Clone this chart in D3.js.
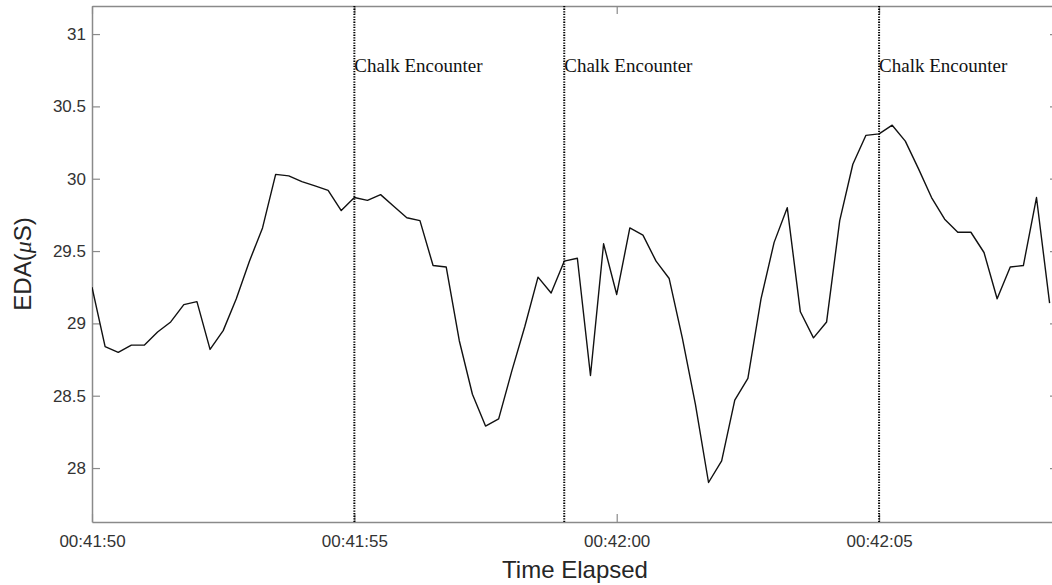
<!DOCTYPE html>
<html>
<head>
<meta charset="utf-8">
<script src="https://cdn.jsdelivr.net/npm/d3@7"></script>
<style>
  html, body { margin: 0; padding: 0; background: #fff; }
  svg { display: block; }
</style>
</head>
<body>
<svg id="chart" width="1052" height="585"></svg>
<script>
// EDA recording, sampled at 4 Hz starting at startTime
const startTime = "00:41:50";
const sampleInterval = 0.25; // seconds between samples
const edaValues = [
  29.25, 28.84, 28.80, 28.85, 28.85, 28.94, 29.01, 29.13, 29.15, 28.82,
  28.95, 29.17, 29.43, 29.66, 30.03, 30.02, 29.98, 29.95, 29.92, 29.78,
  29.87, 29.85, 29.89, 29.81, 29.73, 29.71, 29.40, 29.39, 28.88, 28.51,
  28.29, 28.34, 28.67, 28.98, 29.32, 29.21, 29.43, 29.45, 28.64, 29.55,
  29.20, 29.66, 29.61, 29.43, 29.31, 28.90, 28.44, 27.90, 28.05, 28.47,
  28.62, 29.17, 29.56, 29.80, 29.08, 28.90, 29.01, 29.71, 30.10, 30.30,
  30.31, 30.37, 30.26, 30.07, 29.87, 29.72, 29.63, 29.63, 29.49, 29.17,
  29.39, 29.40, 29.87, 29.14
];

// Axis ticks
const xTickLabels = ["00:41:50", "00:41:55", "00:42:00", "00:42:05"];
const yTickValues = [28, 28.5, 29, 29.5, 30, 30.5, 31];

// Marked events
const eventTimes = ["00:41:55", "00:41:59", "00:42:05"];
const eventLabels = ["Chalk Encounter", "Chalk Encounter", "Chalk Encounter"];

const parseTime = d3.timeParse("%H:%M:%S");
const fmtTime = d3.timeFormat("%H:%M:%S");
const t0 = parseTime(startTime);
const timeAt = s => new Date(t0.getTime() + s * 1000);

const series = edaValues.map((v, i) => ({ t: timeAt(i * sampleInterval), v }));

const svg = d3.select("#chart");
const plot = { left: 92, top: 6, right: 1058, bottom: 522 };

const x = d3.scaleTime()
  .domain([t0, timeAt(18.41)])
  .range([plot.left, plot.right]);
const y = d3.scaleLinear()
  .domain([27.627, 31.194])
  .range([plot.bottom, plot.top]);

const axisColor = "#8a8a8a";
const textColor = "#333";

svg.append("defs").append("clipPath").attr("id", "plotClip")
  .append("rect")
  .attr("x", plot.left).attr("y", plot.top)
  .attr("width", plot.right - plot.left).attr("height", plot.bottom - plot.top);

const xTicks = xTickLabels.map(parseTime);

// Bottom axis with labels
const gx = svg.append("g")
  .attr("transform", `translate(0,${plot.bottom})`)
  .call(d3.axisBottom(x).tickValues(xTicks).tickFormat(fmtTime)
    .tickSizeInner(-8).tickSizeOuter(0).tickPadding(13));
// Top axis (ticks only)
const gxt = svg.append("g")
  .attr("transform", `translate(0,${plot.top})`)
  .call(d3.axisTop(x).tickValues(xTicks).tickFormat("")
    .tickSizeInner(-8).tickSizeOuter(0));
// Left axis with labels
const gy = svg.append("g")
  .attr("transform", `translate(${plot.left},0)`)
  .call(d3.axisLeft(y).tickValues(yTickValues).tickFormat(d3.format("~g"))
    .tickSizeInner(-8).tickSizeOuter(0).tickPadding(6));
// Right axis (ticks only)
const gyr = svg.append("g")
  .attr("transform", `translate(${plot.right},0)`)
  .call(d3.axisRight(y).tickValues(yTickValues).tickFormat("")
    .tickSizeInner(-8).tickSizeOuter(0));

[gx, gxt, gy, gyr].forEach(g => {
  g.select(".domain").attr("stroke", axisColor).attr("stroke-width", 1.5);
  g.selectAll(".tick line").attr("stroke", axisColor).attr("stroke-width", 1.2);
  g.selectAll(".tick text")
    .attr("fill", textColor)
    .style("font-family", "'Liberation Sans', Arial, sans-serif")
    .style("font-size", "17px");
});

// EDA trace
const line = d3.line().x(d => x(d.t)).y(d => y(d.v));
svg.append("path")
  .datum(series)
  .attr("clip-path", "url(#plotClip)")
  .attr("fill", "none")
  .attr("stroke", "#111")
  .attr("stroke-width", 1.4)
  .attr("stroke-linejoin", "round")
  .attr("d", line);

// Event markers
const events = eventTimes.map((s, i) => ({ t: parseTime(s), label: eventLabels[i] }));
const ev = svg.append("g").selectAll("g").data(events).join("g");
ev.append("line")
  .attr("x1", d => x(d.t)).attr("x2", d => x(d.t))
  .attr("y1", plot.top).attr("y2", plot.bottom)
  .attr("stroke", "#000")
  .attr("stroke-width", 2)
  .attr("stroke-dasharray", "1.3,1.3");
ev.append("text")
  .attr("x", d => x(d.t))
  .attr("y", y(30.8))
  .attr("dy", "0.46em")
  .attr("fill", "#111")
  .style("font-family", "'Liberation Serif', 'Times New Roman', serif")
  .style("font-size", "19px")
  .text(d => d.label);

// Axis titles
svg.append("text")
  .attr("x", (plot.left + plot.right) / 2)
  .attr("y", 578)
  .attr("text-anchor", "middle")
  .attr("fill", "#262626")
  .style("font-family", "'Liberation Sans', Arial, sans-serif")
  .style("font-size", "24px")
  .text("Time Elapsed");

const yTitle = svg.append("text")
  .attr("transform", `translate(31,${(plot.top + plot.bottom) / 2}) rotate(-90)`)
  .attr("text-anchor", "middle")
  .attr("fill", "#262626")
  .style("font-family", "'Liberation Sans', Arial, sans-serif")
  .style("font-size", "24px");
yTitle.append("tspan").text("EDA(");
yTitle.append("tspan").style("font-family", "'Liberation Serif', 'Times New Roman', serif")
  .style("font-style", "italic").text("μ");
yTitle.append("tspan").text("S)");
</script>
</body>
</html>
